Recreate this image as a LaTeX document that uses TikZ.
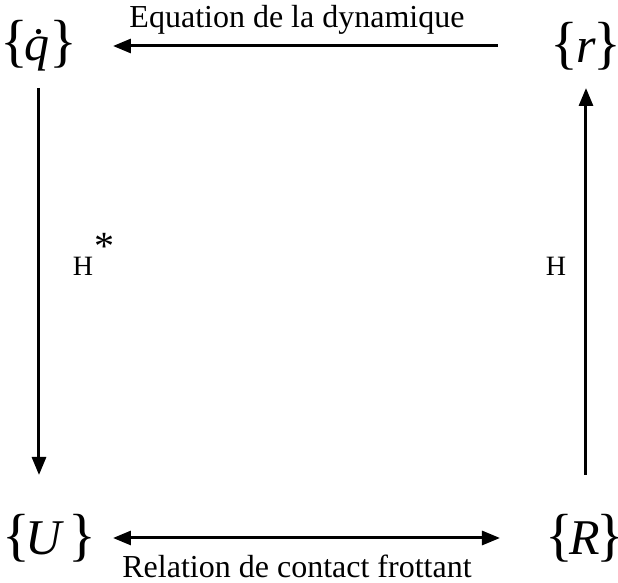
\documentclass[tikz,border=0pt]{standalone}
\usepackage{fontspec}
\setmainfont{Liberation Serif}[ItalicFont={Liberation Serif Italic}]
\usetikzlibrary{arrows.meta}
\newcommand{\brc}[1]{{\fontsize{29}{29}\selectfont\upshape #1}}
\tikzset{
  setnode/.style={inner sep=0pt,font=\fontsize{25}{27}\selectfont\itshape},
  lbl/.style={inner sep=0pt,font=\fontsize{16}{19}\selectfont},
  hlbl/.style={inner sep=0pt,font=\fontsize{14}{16}\selectfont},
  arr/.style={line width=1.5pt,-{Triangle[length=9pt,width=7pt]}},
  darr/.style={arr,{Triangle[length=9pt,width=7pt]}-{Triangle[length=9pt,width=7pt]}},
}
\begin{document}
\begin{tikzpicture}[x=0.5pt,y=-0.5pt]
  \useasboundingbox (0,0) rectangle (618,583);
  % the four sets
  \node[setnode](qdot) at (39,46) {\brc{\{}\kern-2pt\.q\kern0pt\brc{\}}};
  \node[setnode](rset) at (586,46) {\brc{\{}\kern-1pt r\kern-1pt\brc{\}}};
  \node[setnode](uset) at (49,538) {\brc{\{}\kern-2pt U\kern3pt\brc{\}}};
  \node[setnode](rbig) at (585,538) {\brc{\{}\kern-2pt R\kern-2pt\brc{\}}};

  % arrows
  \draw[arr,shorten <=44pt,shorten >=37pt](rset.center)--(qdot.center);
  \draw[arr,shorten <=21pt,shorten >=31.5pt](qdot.center)--(qdot.center|-uset.center);
  \draw[arr,shorten <=31.5pt,shorten >=21pt](rbig.center-|rset.center)--(rset.center);
  \draw[darr,shorten <=32pt,shorten >=42.5pt](uset.center)--(rbig.center);

  % labels
  \node[lbl](dyn) at (297,20) {Equation de la dynamique};
  \node[lbl](ctc) at (297,566) {Relation de contact frottant};
  \node[hlbl](hstar) at (83,266) {H};
  \node[inner sep=0pt,font=\fontsize{20}{20}\selectfont](star) at (105,246) {*};
  \node[hlbl](hh) at (556,266) {H};
\end{tikzpicture}
\end{document}
